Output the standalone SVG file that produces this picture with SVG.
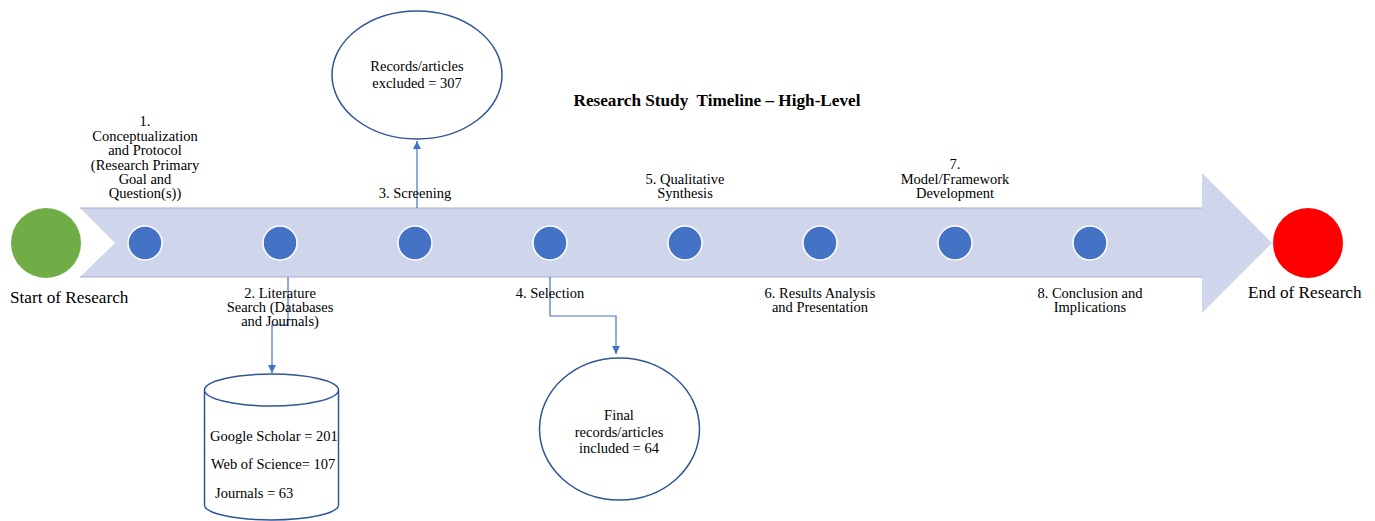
<svg xmlns="http://www.w3.org/2000/svg" width="1375" height="521" viewBox="0 0 1375 521">
<style>
text{font-family:"Liberation Serif","Times New Roman",serif;fill:#000}
.l{font-size:14.5px;text-anchor:middle}
.s{font-size:14.5px}
.big{font-size:17.2px}
.dot{fill:#4472C4;stroke:#fff;stroke-width:1.5}
.conn{fill:none;stroke:#4472C4;stroke-width:1.2}
.ell{fill:#fff;stroke:#2F5597;stroke-width:1.5}
</style>
<defs>
<marker id="ah" viewBox="0 0 10 10" refX="10" refY="5" markerWidth="8" markerHeight="8" markerUnits="userSpaceOnUse" orient="auto">
<path d="M0,0 L10,5 L0,10 z" fill="#4472C4"/>
</marker>
</defs>
<rect width="1375" height="521" fill="#fff"/>
<g id="timeline-arrow">
<path d="M80,208 L1202,208 L1202,173 L1272,243 L1202,313 L1202,277 L80,277 L115,243 Z" fill="#CFD5EA"/>
<line x1="80" y1="208" x2="1202" y2="208" stroke="#A5AFC8" stroke-width="1"/>
<line x1="80" y1="277" x2="1202" y2="277" stroke="#A5AFC8" stroke-width="1"/>
</g>
<g id="title"><text x="717" y="106" xml:space="preserve" style="font-size:17.2px;font-weight:bold;text-anchor:middle">Research Study  Timeline – High-Level</text></g>
<g id="start"><circle cx="46" cy="243" r="35" fill="#70AD47"/><text x="10" y="303" class="big">Start of Research</text></g>
<g id="end"><circle cx="1308" cy="243" r="35" fill="#FF0000"/><text x="1248" y="298" class="big">End of Research</text></g>
<g id="connectors">
<line class="conn" x1="417" y1="208" x2="417" y2="141" marker-end="url(#ah)"/>
<polyline class="conn" points="288,277 288,325 272,325 272,373" marker-end="url(#ah)"/>
<polyline class="conn" points="550,277 550,316 616,316 616,354" marker-end="url(#ah)"/>
</g>
<g id="step1"><circle class="dot" cx="145" cy="243" r="17"/>
<text class="l"><tspan x="145" y="126">1.</tspan><tspan x="145" y="140.5">Conceptualization</tspan><tspan x="145" y="155">and Protocol</tspan><tspan x="145" y="169.5">(Research Primary</tspan><tspan x="145" y="184">Goal and</tspan><tspan x="145" y="198">Question(s))</tspan></text></g>
<g id="step2"><circle class="dot" cx="280" cy="243" r="17"/>
<text class="l"><tspan x="280" y="298">2. Literature</tspan><tspan x="280" y="312">Search (Databases</tspan><tspan x="280" y="326">and Journals)</tspan></text></g>
<g id="step3"><circle class="dot" cx="415" cy="243" r="17"/>
<text class="l" x="415" y="198">3. Screening</text></g>
<g id="step4"><circle class="dot" cx="550" cy="243" r="17"/>
<text class="l" x="550" y="298">4. Selection</text></g>
<g id="step5"><circle class="dot" cx="685" cy="243" r="17"/>
<text class="l"><tspan x="685" y="183.5">5. Qualitative</tspan><tspan x="685" y="198">Synthesis</tspan></text></g>
<g id="step6"><circle class="dot" cx="820" cy="243" r="17"/>
<text class="l"><tspan x="820" y="298">6. Results Analysis</tspan><tspan x="820" y="312">and Presentation</tspan></text></g>
<g id="step7"><circle class="dot" cx="955" cy="243" r="17"/>
<text class="l"><tspan x="955" y="169">7.</tspan><tspan x="955" y="183.5">Model/Framework</tspan><tspan x="955" y="198">Development</tspan></text></g>
<g id="step8"><circle class="dot" cx="1090" cy="243" r="17"/>
<text class="l"><tspan x="1090" y="298">8. Conclusion and</tspan><tspan x="1090" y="312">Implications</tspan></text></g>
<g id="excluded"><ellipse class="ell" cx="417" cy="75" rx="85" ry="64"/>
<text class="l"><tspan x="417" y="71">Records/articles</tspan><tspan x="417" y="88">excluded = 307</tspan></text></g>
<g id="databases">
<path class="ell" d="M204.5,390 L204.5,505 A67,15 0 0 0 338.5,505 L338.5,390"/>
<ellipse class="ell" cx="271.5" cy="390" rx="67" ry="16"/>
<text class="s" x="210" y="441">Google Scholar = 201</text>
<text class="s" x="211" y="469">Web of Science= 107</text>
<text class="s" x="215" y="498">Journals = 63</text>
</g>
<g id="included"><ellipse class="ell" cx="619.5" cy="429" rx="80" ry="71"/>
<text class="l"><tspan x="619" y="420">Final</tspan><tspan x="619" y="437">records/articles</tspan><tspan x="619" y="453">included = 64</tspan></text></g>
</svg>
